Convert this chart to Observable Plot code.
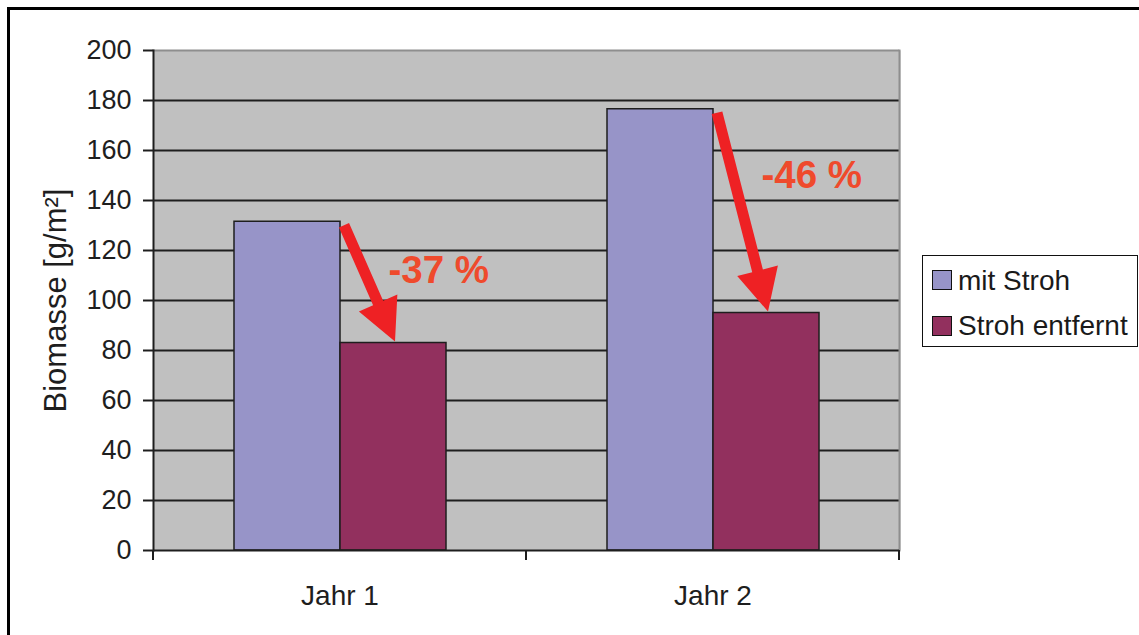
<!DOCTYPE html>
<html>
<head>
<meta charset="utf-8">
<script src="https://cdn.jsdelivr.net/npm/d3@7"></script>
<script src="https://cdn.jsdelivr.net/npm/@observablehq/plot@0.6"></script>
<style>
  html, body { margin: 0; padding: 0; background: #fff; overflow: hidden; }
  body { width: 1139px; height: 635px; position: relative; font-family: "Liberation Sans", Arial, sans-serif; }
  #border { position: absolute; left: 7px; top: 7px; width: 1200px; height: 700px; border: 3px solid #000; box-sizing: border-box; }
  #chart { position: absolute; left: 0; top: 0; }
  #legend { position: absolute; left: 922px; top: 255px; width: 216px; height: 92px; border: 1.5px solid #111; box-sizing: border-box; background: #fff; }
  #legend .sw { position: absolute; left: 9px; width: 20px; height: 20px; border: 1.5px solid #111; box-sizing: border-box; }
  #legend .lab { position: absolute; left: 35px; font-size: 28px; line-height: 28px; color: #1a1a1a; white-space: nowrap; }
</style>
</head>
<body>
<div id="border"></div>
<div id="chart"></div>
<div id="legend"></div>
<script>
// Biomass per year, with straw left on the field vs. straw removed
const years = ["Jahr 1", "Jahr 2"];
const series = ["mit Stroh", "Stroh entfernt"];
const withStraw = [131.5, 176.5];
const strawRemoved = [83, 95];
const yTicks = [0, 20, 40, 60, 80, 100, 120, 140, 160, 180, 200];
const colors = ["#9794c8", "#92305e"];
const yTitle = "Biomasse [g/m²]";

const bars = years.flatMap((year, i) => [
  {year, series: series[0], value: withStraw[i]},
  {year, series: series[1], value: strawRemoved[i]}
]);
const changes = years.map((year, i) => ({
  year,
  from: withStraw[i],
  to: strawRemoved[i],
  pct: Math.round((1 - strawRemoved[i] / withStraw[i]) * 100)
}));

const ink = "#1e1e1e";

// Small tick marks below the baseline at the edges of each year group
function groupEdgeTicks(index, scales) {
  const [r0, r1] = scales.x.range();
  const y0 = scales.y(0);
  const g = d3.create("svg:g").attr("stroke", ink).attr("stroke-width", 2);
  for (const x of [r0, r1]) {
    g.append("line").attr("x1", x).attr("x2", x).attr("y1", y0).attr("y2", y0 + 10);
  }
  return g.node();
}

// Thick arrow from the top of the "mit Stroh" bar down to the "Stroh entfernt" bar
function changeArrows(index, scales) {
  const bw = scales.x.bandwidth();
  const g = d3.create("svg:g").attr("fill", "#ee2124");
  for (const i of index) {
    const d = changes[i];
    const sx = scales.x(series[0]) + bw + 4, sy = scales.y(d.from) + 4;
    const tx = scales.x(series[1]) + bw / 2 + 2, ty = scales.y(d.to) - 1;
    const len = Math.hypot(tx - sx, ty - sy);
    const ux = (tx - sx) / len, uy = (ty - sy) / len;
    const nx = -uy, ny = ux;
    const shaft = 5.5, head = 21, headLen = 42;
    const bx = tx - ux * headLen, by = ty - uy * headLen;
    const pts = [
      [sx + nx * shaft, sy + ny * shaft],
      [bx + nx * shaft, by + ny * shaft],
      [bx + nx * head, by + ny * head],
      [tx, ty],
      [bx - nx * head, by - ny * head],
      [bx - nx * shaft, by - ny * shaft],
      [sx - nx * shaft, sy - ny * shaft]
    ];
    g.append("polygon").attr("points", pts.map(p => p.join(",")).join(" "));
  }
  return g.node();
}

const chart = Plot.plot({
  width: 1139,
  height: 635,
  marginLeft: 153,
  marginRight: 240,
  marginTop: 50,
  marginBottom: 85,
  fx: {domain: years, padding: 0, axis: null},
  x: {domain: series, paddingInner: 0, paddingOuter: 0.75, axis: null},
  y: {domain: [0, 200], axis: null},
  color: {domain: series, range: colors},
  style: {
    fontFamily: "'Liberation Sans', Arial, sans-serif",
    fontSize: "27px",
    color: ink,
    background: "transparent",
    overflow: "visible"
  },
  marks: [
    // the facet backgrounds overlap by a pixel so no seam shows between the years
    Plot.frame({fill: "#c0c0c0", insetRight: -1}),
    Plot.ruleY(yTicks.filter(t => t > 0 && t < 200), {stroke: ink, strokeWidth: 2}),
    Plot.ruleY([200], {stroke: "#8e8e8e", strokeWidth: 2}),
    Plot.frame({anchor: "right", stroke: "#8e8e8e", strokeWidth: 2, facetAnchor: "right"}),
    Plot.barY(bars, {fx: "year", x: "series", y: "value", fill: "series", stroke: ink, strokeWidth: 1.5}),
    Plot.ruleY([0], {stroke: ink, strokeWidth: 2}),
    Plot.frame({anchor: "left", stroke: ink, strokeWidth: 2, facetAnchor: "left"}),
    Plot.ruleY([0], {render: groupEdgeTicks}),
    Plot.axisY({ticks: yTicks, tickSize: 10, tickPadding: 12, fontSize: 27, strokeWidth: 2, label: null}),
    Plot.axisFx({anchor: "bottom", tickSize: 0, tickPadding: 35, fontSize: 28, label: null}),
    Plot.text([{year: years[0]}], {
      fx: "year", frameAnchor: "left", text: () => yTitle, textAnchor: "middle",
      rotate: -90, dx: -97, fontSize: 31, fill: ink
    }),
    Plot.dot(changes, {fx: "year", x: () => series[0], y: "from", render: changeArrows}),
    Plot.text(changes, {
      fx: "year", x: () => series[1], y: d => d.from * 0.85,
      text: d => `-${d.pct} %`, textAnchor: "start", dx: -5,
      fontSize: 38.5, fontWeight: "bold", fill: "#ef4a2c"
    })
  ]
});
document.getElementById("chart").append(chart);

// Legend for the two series
const legend = document.getElementById("legend");
series.forEach((name, i) => {
  const sw = document.createElement("div");
  sw.className = "sw";
  sw.style.top = (14 + i * 46) + "px";
  sw.style.background = colors[i];
  const lab = document.createElement("div");
  lab.className = "lab";
  lab.style.top = (11 + i * 45) + "px";
  lab.textContent = name;
  legend.append(sw, lab);
});
</script>
</body>
</html>
